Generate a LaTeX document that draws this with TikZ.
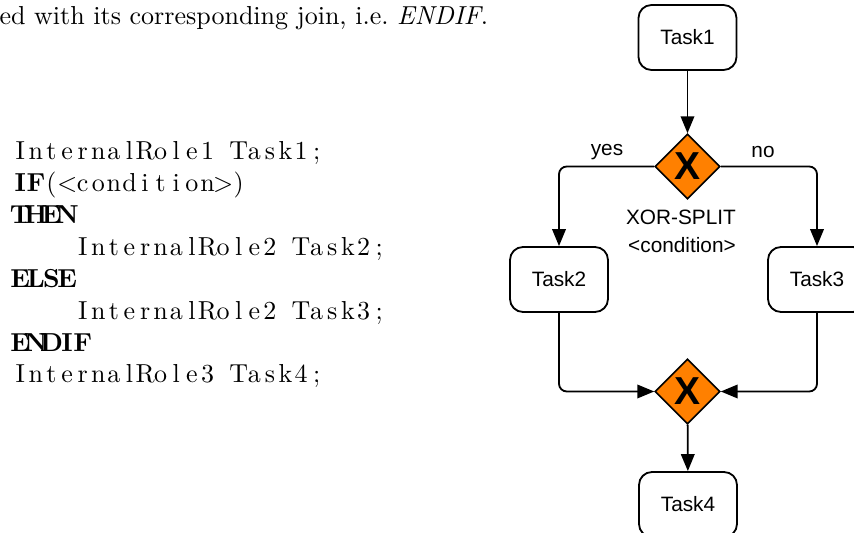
\documentclass[tikz,border=0pt]{standalone}
\usepackage{fontspec}
\newfontfamily\arialfont{Liberation Sans}
\usetikzlibrary{shapes.geometric,arrows.meta}

% fixed-column listing text: every character sits centred in a 0.6em box
\newcommand\colbox[1]{\makebox[0.6em]{#1}}
\def\fixcols#1{\fixcolsloop#1\relax}
\def\fixcolsloop#1{\ifx#1\relax\else\colbox{#1}\expandafter\fixcolsloop\fi}
\newcommand\lsym{$<$}
\newcommand\gsym{$>$}

\definecolor{gateorange}{RGB}{255,128,0}

\tikzset{
  codeline/.style={anchor=base west, inner sep=0pt},
  taskbox/.style={draw, line width=0.7pt, rounded corners=5pt,
    minimum width=37.7pt, minimum height=25pt, inner sep=0pt,
    font=\arialfont\fontsize{8}{9.6}\selectfont},
  gate/.style={diamond, draw, line width=0.6pt, fill=gateorange,
    minimum width=25pt, minimum height=25pt, inner sep=0pt,
    font=\arialfont\bfseries\fontsize{15}{16}\selectfont},
  flow/.style={draw, line width=0.7pt, rounded corners=3pt,
    -{Triangle[length=6.5pt,width=5.2pt]}},
  flowlabel/.style={inner sep=0pt, font=\arialfont\fontsize{8}{9.6}\selectfont}
}

\begin{document}
\begin{tikzpicture}[x=0.3846pt, y=-0.3846pt]
\useasboundingbox (0,0) rectangle (854,533);

% closing words of the preceding paragraph
\node[codeline] (intro) at (-1,25) {ed with its corresponding join, i.e.\ \emph{ENDIF}.};

% the process as text
\node[codeline] (c1) at (12,160) {\fixcols{InternalRole1~Task1;}};
\node[codeline] (c2) at (12,192) {{\bfseries\fixcols{IF}}\fixcols{(\lsym condition\gsym)}};
\node[codeline] (c3) at (12,224) {{\bfseries\fixcols{THEN}}};
\node[codeline] (c4) at (12,256) {\fixcols{~~~~InternalRole2~Task2;}};
\node[codeline] (c5) at (12,288) {{\bfseries\fixcols{ELSE}}};
\node[codeline] (c6) at (12,320) {\fixcols{~~~~InternalRole2~Task3;}};
\node[codeline] (c7) at (12,352) {{\bfseries\fixcols{ENDIF}}};
\node[codeline] (c8) at (12,383) {\fixcols{InternalRole3~Task4;}};

% the process as a flow chart
\node[taskbox] (t1) at (687.5,37.5) {Task1};
\node[gate] (split) at (687.5,166.5) {X};
\node[taskbox] (t2) at (559,279.5) {Task2};
\node[taskbox] (t3) at (817,279.5) {Task3};
\node[gate] (join) at (687.5,391.5) {X};
\node[taskbox] (t4) at (688,504.5) {Task4};

\draw[flow] (t1) -- (split);
\draw[flow] (split.west) -| (t2.north);
\draw[flow] (split.east) -| (t3.north);
\draw[flow] (t2.south) |- (join.west);
\draw[flow] (t3.south) |- (join.east);
\draw[flow] (join) -- (t4);

\node[flowlabel] (yes) at (607,152) {yes};
\node[flowlabel] (no) at (763,152) {no};
\node[flowlabel] (splitname) at (681,217) {XOR-SPLIT};
\node[flowlabel] (splitcond) at (682,245) {<condition>};
\end{tikzpicture}
\end{document}
